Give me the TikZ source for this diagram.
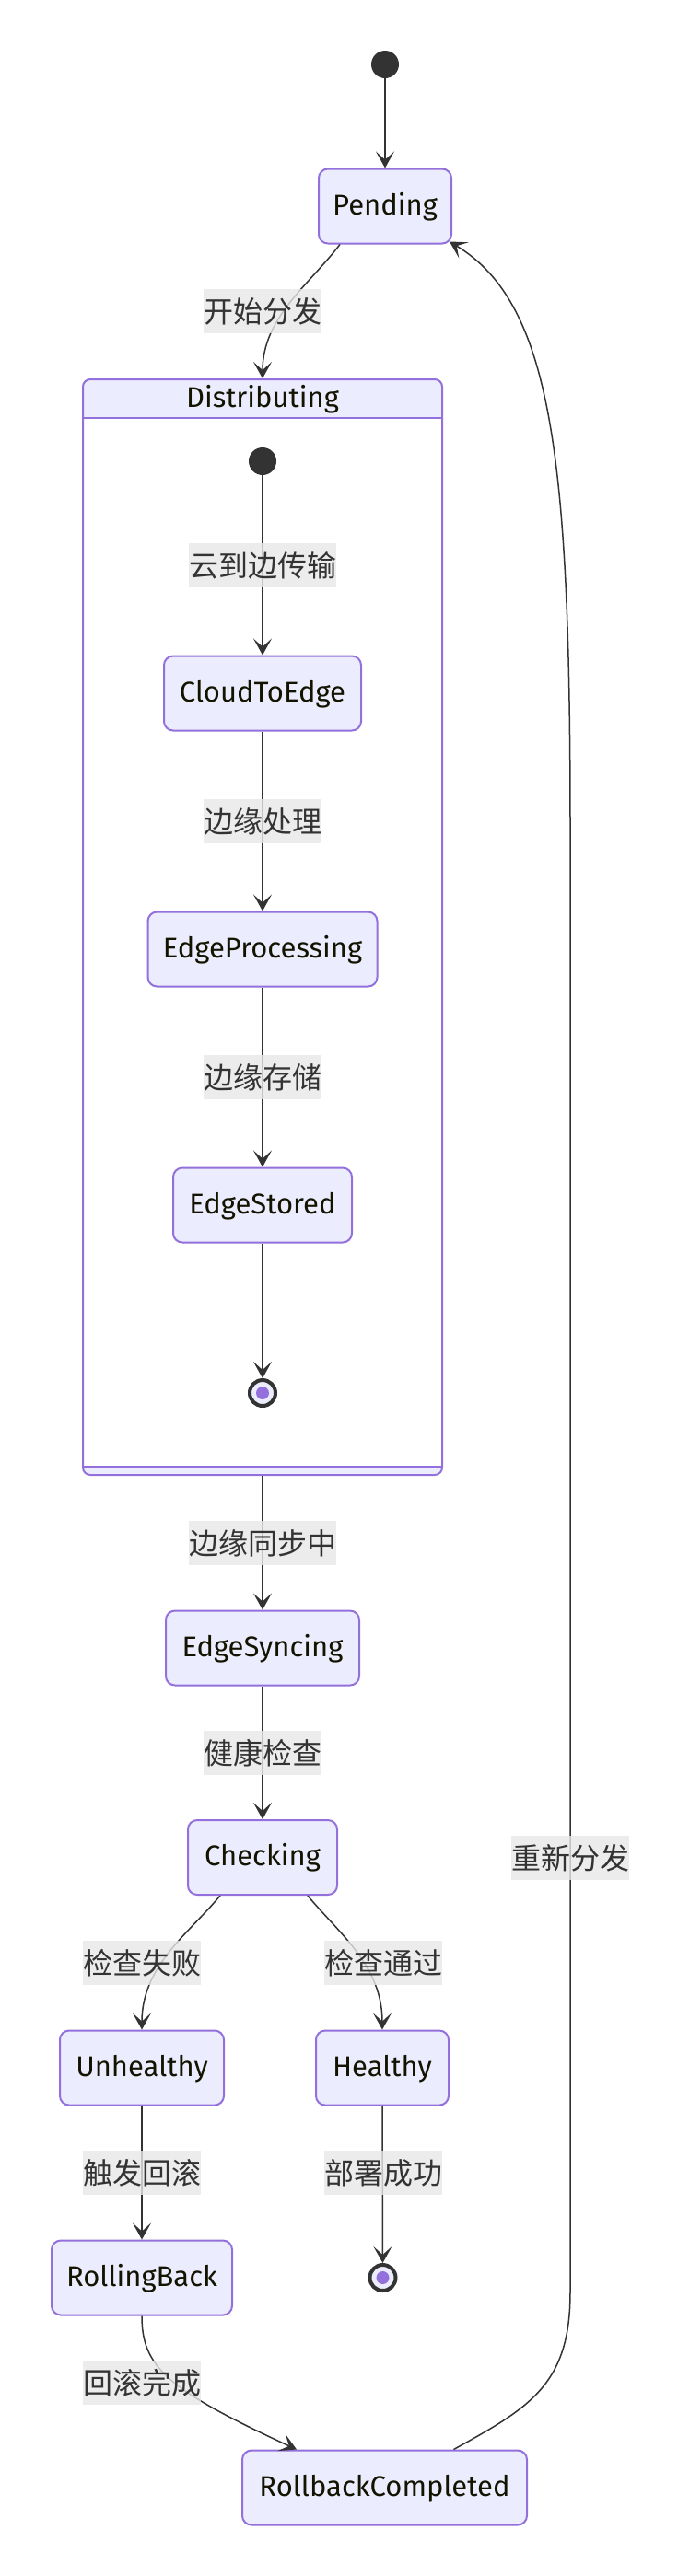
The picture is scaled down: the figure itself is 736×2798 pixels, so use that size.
\documentclass[tikz,border=0pt]{standalone}
\usepackage{fontspec}
\setmainfont{Fira Sans}
\newfontfamily\cjk{Noto Sans CJK SC}
\usetikzlibrary{arrows.meta}
\definecolor{nodefill}{HTML}{ECECFF}
\definecolor{nodeline}{HTML}{9370DB}
\definecolor{edgecol}{HTML}{333333}
\definecolor{lblfill}{HTML}{E8E8E8}
\definecolor{txt}{HTML}{131300}
\tikzset{
  statebox/.style={draw=nodeline, fill=nodefill, line width=2pt, rounded corners=10pt,
    minimum height=81pt, minimum width=#1, inner sep=0pt, text=txt,
    text height=23pt, text depth=5pt, font=\fontsize{31}{37}\selectfont},
  lbl/.style={fill=lblfill, fill opacity=0.8, text opacity=1, text=edgecol, inner sep=0pt,
    minimum height=48pt, text height=26pt, text depth=2pt, font=\cjk\fontsize{32}{38}\selectfont},
  edge/.style={draw=edgecol, line width=1.5pt, -{Stealth[length=18pt,width=20pt,inset=9pt]}},
  startdot/.style={circle, fill=edgecol, minimum size=30pt, inner sep=0pt},
  enddot/.style={circle, draw=edgecol, line width=4pt, fill=nodefill, minimum size=28pt, inner sep=0pt},
}
\begin{document}
\begin{tikzpicture}[x=1pt,y=-1pt]
\useasboundingbox (0,0) rectangle (736,2798);
\fill[white] (0,0) rectangle (736,2798);

% composite state Distributing
\fill[white, rounded corners=8pt] (90,412) rectangle (480,1602);
\begin{scope}
  \clip[rounded corners=8pt] (90,412) rectangle (480,1602);
  \fill[nodefill] (90,412) rectangle (480,454);
  \fill[nodefill] (90,1593) rectangle (480,1602);
\end{scope}
\draw[nodeline, line width=2pt] (90,454) -- (480,454);
\draw[nodeline, line width=2pt] (90,1593) -- (480,1593);
\node[draw=nodeline, line width=2pt, rounded corners=8pt, minimum width=390pt,
  minimum height=1190pt, inner sep=0pt] (Dist) at (285,1007) {};
\node[text=txt, inner sep=0pt, text height=23pt, text depth=5pt,
  font=\fontsize{31}{37}\selectfont] (DistTitle) at (285,433) {Distributing};

% states
\node[startdot] (S0) at (418,70) {};
\node[statebox=144pt] (Pending) at (418,224) {Pending};
\node[startdot] (S1) at (285,501) {};
\node[statebox=214pt] (C2E) at (285,753) {CloudToEdge};
\node[statebox=249pt] (EP) at (285,1031) {EdgeProcessing};
\node[statebox=194pt] (ESt) at (285,1309) {EdgeStored};
\node[enddot] (E1) at (285,1513) {};
\fill[nodeline] (E1.center) circle (7pt);
\node[statebox=210pt] (ESy) at (285,1790) {EdgeSyncing};
\node[statebox=162pt] (Chk) at (285,2017.5) {Checking};
\node[statebox=178pt] (Unh) at (154,2246) {Unhealthy};
\node[statebox=144pt] (Hea) at (415,2246) {Healthy};
\node[statebox=196pt] (RB) at (154,2474) {RollingBack};
\node[enddot] (E2) at (415.5,2474) {};
\fill[nodeline] (E2.center) circle (7pt);
\node[statebox=309pt] (RC) at (417.5,2702) {RollbackCompleted};

% transitions
\draw[edge] (S0) -- (Pending);
\draw[edge] ([xshift=24pt]Pending.south west) .. controls (335,310) and (285,345) .. (Dist.north);
\draw[edge] (S1) -- (C2E);
\draw[edge] (C2E) -- (EP);
\draw[edge] (EP) -- (ESt);
\draw[edge] (ESt) -- (E1);
\draw[edge] (Dist.south) -- (ESy);
\draw[edge] (ESy) -- (Chk);
\draw[edge] ([xshift=36pt]Chk.south west) .. controls (205,2100) and (154,2135) .. (Unh.north);
\draw[edge] ([xshift=-33pt]Chk.south east) .. controls (368,2100) and (415,2135) .. (Hea.north);
\draw[edge] (Unh) -- (RB);
\draw[edge] (Hea) -- (E2);
\draw[edge] (RB.south) .. controls (154,2570) and (180,2595) .. ([xshift=60pt]RC.north west);
\draw[edge] ([xshift=75pt]RC.north) .. controls (575,2615) and (619,2590) .. (619,2490)
  -- (619,900) .. controls (619,500) and (600,330) .. ([xshift=-3pt,yshift=3pt]Pending.south east);

% labels
\node[lbl] (L1) at (285,338) {开始分发};
\node[lbl] (L2) at (285,614) {云到边传输};
\node[lbl] (L3) at (285,892) {边缘处理};
\node[lbl] (L4) at (285,1170) {边缘存储};
\node[lbl] (L5) at (285,1676) {边缘同步中};
\node[lbl] (L6) at (285,1904) {健康检查};
\node[lbl] (L7) at (154,2132) {检查失败};
\node[lbl] (L8) at (416,2132) {检查通过};
\node[lbl] (L9) at (154,2360) {触发回滚};
\node[lbl] (L10) at (416,2360) {部署成功};
\node[lbl] (L11) at (154,2588) {回滚完成};
\node[lbl] (L12) at (619,2018) {重新分发};
\end{tikzpicture}
\end{document}
